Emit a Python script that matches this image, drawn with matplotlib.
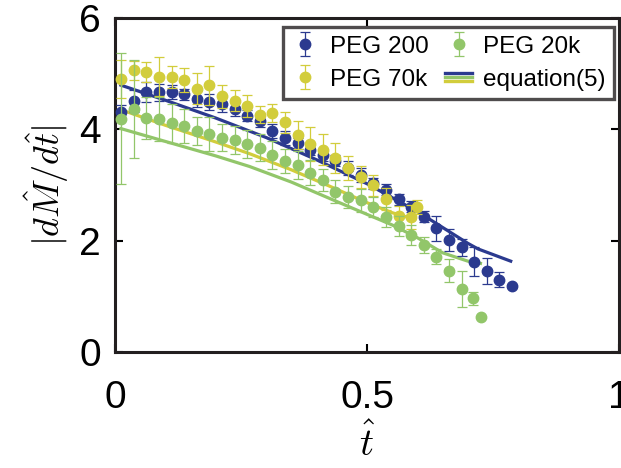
import matplotlib
matplotlib.use("Agg")
import matplotlib.pyplot as plt
import numpy as np
from matplotlib.lines import Line2D
from matplotlib.legend_handler import HandlerBase

plt.rcParams['font.family'] = ['Liberation Sans', 'DejaVu Sans']
plt.rcParams['mathtext.fontset'] = 'cm'

# colours
c_200 = '#2b3a8f'
c_70k = '#d2cd3c'
c_20k = '#92c66a'

# PEG 200 measurements
t_200 = [0.0125, 0.0375, 0.0625, 0.0875, 0.1125, 0.1375, 0.1625, 0.1875,
         0.2125, 0.2375, 0.2625, 0.2875, 0.3125, 0.3375, 0.3625, 0.3875,
         0.4125, 0.4375, 0.4625, 0.4875, 0.5125, 0.5375, 0.5625, 0.5875,
         0.6125, 0.6375, 0.6625, 0.6875, 0.7125, 0.7375, 0.7625, 0.7875]
m_200 = [4.31, 4.51, 4.66, 4.66, 4.67, 4.63, 4.55, 4.49, 4.45, 4.36, 4.24, 4.15,
         3.97, 3.84, 3.75, 3.63, 3.53, 3.43, 3.30, 3.18, 3.03, 2.91, 2.74, 2.61,
         2.43, 2.22, 2.01, 1.88, 1.62, 1.45, 1.30, 1.18]
e_200 = [0.12, 0.2, 0.18, 0.15, 0.12, 0.1, 0.15, 0.15, 0.15, 0.12, 0.1, 0.12,
         0.12, 0.12, 0.1, 0.1, 0.1, 0.1, 0.12, 0.12, 0.1, 0.1, 0.1, 0.1,
         0.1, 0.22, 0.2, 0.15, 0.26, 0.23, 0.14, 0.03]

# PEG 70k measurements
t_70k = [0.0125, 0.0375, 0.0625, 0.0875, 0.1125, 0.1375, 0.1625, 0.1875,
         0.2125, 0.2375, 0.2625, 0.2875, 0.3125, 0.3375, 0.3625, 0.3875,
         0.4125, 0.4375, 0.4625, 0.4875, 0.5125, 0.5375, 0.5625, 0.5875, 0.6]
m_70k = [4.90, 5.06, 5.03, 4.94, 4.94, 4.88, 4.73, 4.79, 4.59, 4.51, 4.42, 4.26,
         4.29, 4.12, 3.90, 3.73, 3.63, 3.49, 3.30, 3.14, 2.99, 2.75, 2.44, 2.42, 2.60]
e_70k = [0.34, 0.17, 0.18, 0.35, 0.2, 0.21, 0.28, 0.35, 0.21, 0.19, 0.2, 0.15,
         0.17, 0.18, 0.25, 0.3, 0.28, 0.27, 0.22, 0.2, 0.19, 0.2, 0.18, 0.22, 0.13]

# PEG 20k measurements
t_20k = [0.0125, 0.0375, 0.0625, 0.0875, 0.1125, 0.1375, 0.1625, 0.1875,
         0.2125, 0.2375, 0.2625, 0.2875, 0.3125, 0.3375, 0.3625, 0.3875,
         0.4125, 0.4375, 0.4625, 0.4875, 0.5125, 0.5375, 0.5625, 0.5875,
         0.6125, 0.6375, 0.6625, 0.6875, 0.7100, 0.7270]
m_20k = [4.19, 4.36, 4.20, 4.18, 4.11, 4.06, 3.96, 3.91, 3.85, 3.81, 3.73, 3.67,
         3.54, 3.43, 3.36, 3.22, 3.09, 2.88, 2.78, 2.72, 2.60, 2.42, 2.26, 2.10,
         1.92, 1.71, 1.46, 1.13, 0.96, 0.62]
e_20k = [1.17, 0.88, 0.38, 0.40, 0.35, 0.3, 0.25, 0.3, 0.25, 0.25, 0.25, 0.25,
         0.25, 0.22, 0.25, 0.22, 0.2, 0.2, 0.2, 0.2, 0.18, 0.18, 0.18, 0.18,
         0.15, 0.13, 0.2, 0.32, 0.12, 0.0]

# equation (5) curves
t_eq_200 = [0.012, 0.1, 0.2, 0.3, 0.4, 0.5, 0.6, 0.7, 0.72, 0.785]
y_eq_200 = [4.79, 4.52, 4.20, 3.85, 3.45, 3.02, 2.52, 1.95, 1.85, 1.63]
t_eq_70k = [0.012, 0.1, 0.2, 0.267, 0.35, 0.43, 0.5, 0.55, 0.595]
y_eq_70k = [4.35, 4.07, 3.77, 3.56, 3.27, 2.96, 2.68, 2.50, 2.38]
t_eq_20k = [0.012, 0.1, 0.2, 0.267, 0.35, 0.43, 0.5, 0.55, 0.6, 0.65, 0.7, 0.725]
y_eq_20k = [4.01, 3.78, 3.52, 3.33, 3.05, 2.74, 2.47, 2.28, 2.05, 1.78, 1.63, 1.59]


class EqHandle:
    pass


class HandlerEq(HandlerBase):
    # three stacked coloured lines for the model legend entry
    def create_artists(self, legend, orig_handle, xdescent, ydescent,
                       width, height, fontsize, trans):
        arts = []
        for i, c in enumerate([c_200, c_20k, c_70k]):
            y = -ydescent + height * (0.5 + (1 - i) * 0.25)
            ln = Line2D([-xdescent, -xdescent + width], [y, y], color=c, lw=2.4)
            ln.set_transform(trans)
            arts.append(ln)
        return arts


fig = plt.figure(figsize=(6.21, 4.68), dpi=100)
ax = fig.add_axes([0.185, 0.248, 0.812, 0.714])

ax.plot(t_eq_200, y_eq_200, color=c_200, lw=2.3, zorder=2)
ax.plot(t_eq_70k, y_eq_70k, color=c_70k, lw=2.3, zorder=2)
ax.plot(t_eq_20k, y_eq_20k, color=c_20k, lw=2.3, zorder=2)

h200 = ax.errorbar(t_200, m_200, yerr=e_200, fmt='o', color=c_200, ms=7.5,
                   elinewidth=0.9, capsize=3.5, capthick=0.9, zorder=3)
h70 = ax.errorbar(t_70k, m_70k, yerr=e_70k, fmt='o', color=c_70k, ms=7.5,
                  elinewidth=0.9, capsize=3.5, capthick=0.9, zorder=4)
h20 = ax.errorbar(t_20k, m_20k, yerr=e_20k, fmt='o', color=c_20k, ms=7.5,
                  elinewidth=0.9, capsize=3.5, capthick=0.9, zorder=5)

ax.set_xlim(0, 1)
ax.set_ylim(0, 6)
ax.set_xticks([0, 0.5, 1])
ax.set_xticklabels(['0', '0.5', '1'])
ax.set_yticks([0, 2, 4, 6])
ax.tick_params(direction='in', length=6, width=1.5, labelsize=28,
               top=True, right=True)
ax.tick_params(axis='x', pad=20)
ax.tick_params(axis='y', pad=10)
for s in ax.spines.values():
    s.set_linewidth(2.2)
    s.set_color('#231f20')

ax.set_xlabel(r'$\hat{t}$', fontsize=28, labelpad=6)
ax.set_ylabel(r'$|d\hat{M}/d\hat{t}|$', fontsize=26, labelpad=6)

leg = ax.legend([h200, h70, h20, EqHandle()],
                ['PEG 200', 'PEG 70k', 'PEG 20k', 'equation(5)'],
                handler_map={EqHandle: HandlerEq()},
                ncol=2, loc='upper right', bbox_to_anchor=(0.99, 0.972),
                fontsize=17.5, frameon=True, fancybox=False, edgecolor='#231f20',
                handlelength=1.1, handletextpad=0.45, columnspacing=0.7,
                borderpad=0.35, labelspacing=0.45, borderaxespad=0.0)
leg.get_frame().set_linewidth(2.4)

fig.savefig('out.png', dpi=100)
